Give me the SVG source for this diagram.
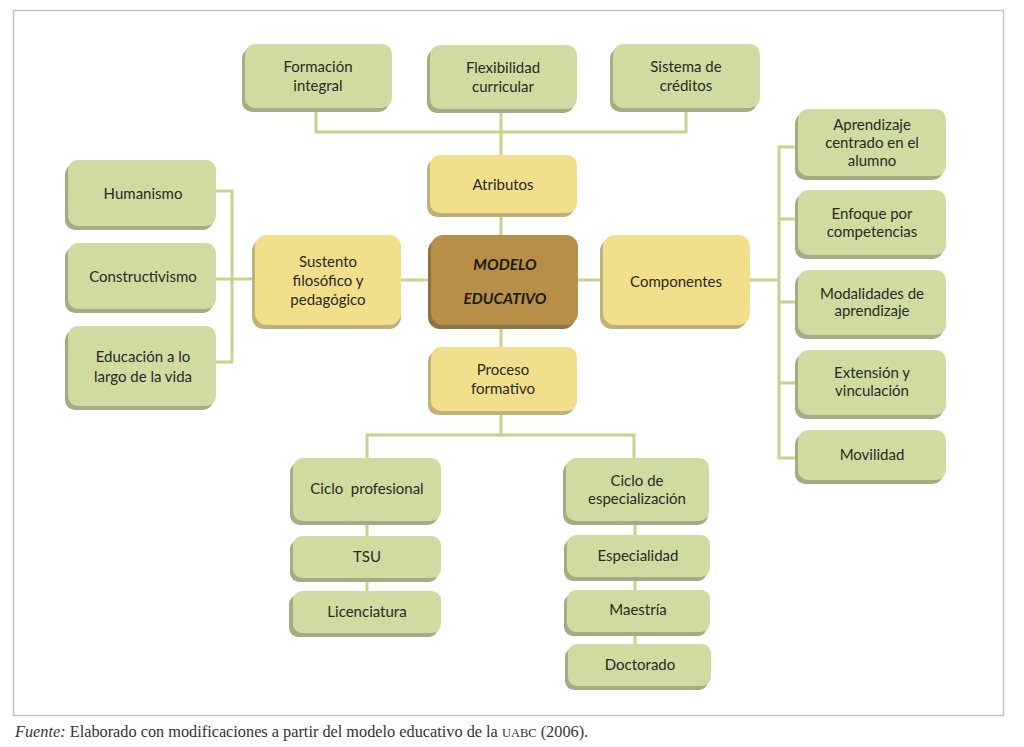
<svg xmlns="http://www.w3.org/2000/svg" width="1024" height="747" viewBox="0 0 1024 747">
<style>
.g{fill:#d0dba2}
.y{fill:#f2df8c}
.b{fill:#b88f48}
.sg{fill:#a5ab84}
.sy{fill:#bdb27c}
.sb{fill:#8d7446}
.t{font-family:Lato,"Open Sans","Liberation Sans",sans-serif;font-size:15px;fill:#2a2a1e;text-anchor:middle}
.m{font-family:Lato,"Open Sans","Liberation Sans",sans-serif;font-size:15.5px;font-weight:bold;font-style:italic;fill:#1e1a10;text-anchor:middle}
.c{fill:none;stroke:#c3d48b;stroke-width:3}
.f{font-family:"Liberation Serif",serif;font-size:16.3px;fill:#333}
</style>
<rect width="1024" height="747" fill="#fff"/>
<rect x="13.5" y="10.5" width="990" height="705" fill="none" stroke="#c4c4c4" stroke-width="1.5"/>

<g id="connectors">
<path class="c" d="M316 108 V132 H686 V108"/>
<path class="c" d="M501 109 V155"/>
<path class="c" d="M501 213 V235"/>
<path class="c" d="M501 325 V347"/>
<path class="c" d="M401 280 H431"/>
<path class="c" d="M577 280 H603"/>
<path class="c" d="M216 191 H232 V362 H216"/>
<path class="c" d="M216 279 H255"/>
<path class="c" d="M750 280 H779"/>
<path class="c" d="M798 147 H779 V458 H798"/>
<path class="c" d="M779 219 H798 M779 302 H798 M779 383 H798"/>
<path class="c" d="M501 411 V435"/>
<path class="c" d="M367 458 V435 H634 V458"/>
<path class="c" d="M367 522 V536 M367 579 V591"/>
<path class="c" d="M635 522 V535 M635 578 V590 M635 633 V644"/>
</g>

<g id="formacion"><rect class="sg" x="242" y="48" width="147" height="64" rx="10"/><rect class="g" x="245" y="44" width="147" height="64" rx="10"/><text class="t" x="318" y="72">Formación</text><text class="t" x="318" y="91">integral</text></g>
<g id="flexibilidad"><rect class="sg" x="427" y="49" width="147" height="64" rx="10"/><rect class="g" x="430" y="45" width="147" height="64" rx="10"/><text class="t" x="503" y="73">Flexibilidad</text><text class="t" x="503" y="92">curricular</text></g>
<g id="sistema"><rect class="sg" x="610" y="48" width="147" height="64" rx="10"/><rect class="g" x="613" y="44" width="147" height="64" rx="10"/><text class="t" x="686" y="72">Sistema de</text><text class="t" x="686" y="91">créditos</text></g>
<g id="atributos"><rect class="sy" x="427" y="159" width="147" height="58" rx="10"/><rect class="y" x="430" y="155" width="147" height="58" rx="10"/><text class="t" x="503" y="190">Atributos</text></g>
<g id="modelo"><rect class="sb" x="428" y="239" width="147" height="90" rx="12"/><rect class="b" x="431" y="235" width="147" height="90" rx="12"/><text class="m" x="505" y="270">MODELO</text><text class="m" x="505" y="304">EDUCATIVO</text></g>
<g id="sustento"><rect class="sy" x="252" y="239" width="149" height="90" rx="12"/><rect class="y" x="255" y="235" width="146" height="90" rx="12"/><text class="t" x="328" y="267">Sustento</text><text class="t" x="328" y="286">filosófico y</text><text class="t" x="328" y="305">pedagógico</text></g>
<g id="componentes"><rect class="sy" x="600" y="239" width="147" height="90" rx="12"/><rect class="y" x="603" y="235" width="147" height="90" rx="12"/><text class="t" x="676" y="287">Componentes</text></g>
<g id="proceso"><rect class="sy" x="428" y="351" width="146" height="64" rx="10"/><rect class="y" x="431" y="347" width="146" height="64" rx="10"/><text class="t" x="503" y="375">Proceso</text><text class="t" x="503" y="394">formativo</text></g>

<g id="humanismo"><rect class="sg" x="65" y="164" width="148" height="66" rx="10"/><rect class="g" x="68" y="160" width="148" height="66" rx="10"/><text class="t" x="143" y="199">Humanismo</text></g>
<g id="constructivismo"><rect class="sg" x="65" y="247" width="148" height="66" rx="10"/><rect class="g" x="68" y="243" width="148" height="66" rx="10"/><text class="t" x="143" y="282">Constructivismo</text></g>
<g id="educacion"><rect class="sg" x="65" y="330" width="148" height="80" rx="10"/><rect class="g" x="68" y="326" width="148" height="80" rx="10"/><text class="t" x="143" y="362">Educación a lo</text><text class="t" x="143" y="382">largo de la vida</text></g>

<g id="aprendizaje"><rect class="sg" x="795" y="113" width="148" height="67" rx="10"/><rect class="g" x="798" y="109" width="148" height="67" rx="10"/><text class="t" x="872" y="130">Aprendizaje</text><text class="t" x="872" y="148">centrado en el</text><text class="t" x="872" y="166">alumno</text></g>
<g id="enfoque"><rect class="sg" x="795" y="194" width="148" height="65" rx="10"/><rect class="g" x="798" y="190" width="148" height="65" rx="10"/><text class="t" x="872" y="219">Enfoque por</text><text class="t" x="872" y="237">competencias</text></g>
<g id="modalidades"><rect class="sg" x="795" y="274" width="148" height="65" rx="10"/><rect class="g" x="798" y="270" width="148" height="65" rx="10"/><text class="t" x="872" y="299">Modalidades de</text><text class="t" x="872" y="316">aprendizaje</text></g>
<g id="extension"><rect class="sg" x="795" y="354" width="148" height="65" rx="10"/><rect class="g" x="798" y="350" width="148" height="65" rx="10"/><text class="t" x="872" y="378">Extensión y</text><text class="t" x="872" y="396">vinculación</text></g>
<g id="movilidad"><rect class="sg" x="795" y="434" width="148" height="50" rx="10"/><rect class="g" x="798" y="430" width="148" height="50" rx="10"/><text class="t" x="872" y="460">Movilidad</text></g>

<g id="ciclo-profesional"><rect class="sg" x="290" y="462" width="148" height="63" rx="10"/><rect class="g" x="293" y="458" width="148" height="63" rx="10"/><text class="t" x="367" y="494" xml:space="preserve">Ciclo  profesional</text></g>
<g id="tsu"><rect class="sg" x="290" y="540" width="148" height="42" rx="9"/><rect class="g" x="293" y="536" width="148" height="42" rx="9"/><text class="t" x="367" y="562">TSU</text></g>
<g id="licenciatura"><rect class="sg" x="289" y="595" width="149" height="42" rx="9"/><rect class="g" x="293" y="591" width="148" height="42" rx="9"/><text class="t" x="367" y="617">Licenciatura</text></g>
<g id="ciclo-especializacion"><rect class="sg" x="563" y="462" width="145" height="63" rx="10"/><rect class="g" x="566" y="458" width="143" height="63" rx="10"/><text class="t" x="637" y="486">Ciclo de</text><text class="t" x="637" y="504">especialización</text></g>
<g id="especialidad"><rect class="sg" x="564" y="539" width="143" height="42" rx="9"/><rect class="g" x="567" y="535" width="143" height="42" rx="9"/><text class="t" x="638" y="561">Especialidad</text></g>
<g id="maestria"><rect class="sg" x="564" y="594" width="143" height="42" rx="9"/><rect class="g" x="567" y="590" width="143" height="42" rx="9"/><text class="t" x="638" y="615">Maestría</text></g>
<g id="doctorado"><rect class="sg" x="565" y="648" width="143" height="42" rx="9"/><rect class="g" x="568" y="644" width="143" height="42" rx="9"/><text class="t" x="640" y="670">Doctorado</text></g>

<text class="f" x="15" y="737"><tspan font-style="italic">Fuente:</tspan> Elaborado con modificaciones a partir del modelo educativo de la <tspan font-size="12.5px">UABC</tspan> (2006).</text>
</svg>
